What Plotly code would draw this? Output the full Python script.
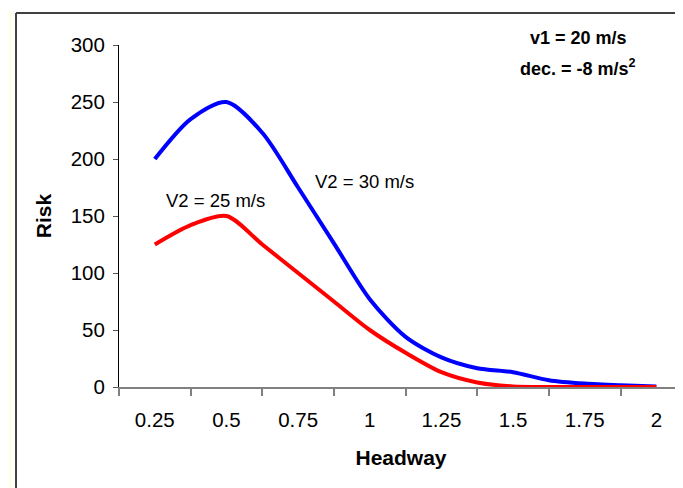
import plotly.graph_objects as go

headway = [0.25, 0.375, 0.5, 0.625, 0.75, 0.875, 1.0, 1.125, 1.25, 1.375, 1.5, 1.625, 1.75, 1.875, 2.0]
risk_v30 = [200, 235, 250, 223, 175, 126, 77, 44, 26, 16.5, 13, 6, 3, 1.5, 0.5]
risk_v25 = [125, 142, 150, 125, 100, 75, 50, 30, 13, 4, 0.5, 0, 0, 0, 0]

xtick_vals = [0.25, 0.5, 0.75, 1, 1.25, 1.5, 1.75, 2]
xtick_text = ["0.25", "0.5", "0.75", "1", "1.25", "1.5", "1.75", "2"]
xtick_marks = [0.125, 0.375, 0.625, 0.875, 1.125, 1.375, 1.625, 1.875]
ytick_vals = [0, 50, 100, 150, 200, 250, 300]

FONT = "Liberation Sans, Arial, sans-serif"

fig = go.Figure()
fig.add_trace(go.Scatter(x=headway, y=risk_v30, mode="lines", name="V2 = 30 m/s",
                         line=dict(color="#0000FF", width=4, shape="spline", smoothing=0.8)))
fig.add_trace(go.Scatter(x=headway, y=risk_v25, mode="lines", name="V2 = 25 m/s",
                         line=dict(color="#FF0000", width=4, shape="spline", smoothing=0.8)))

# page body has an 8px margin; figure is sized/offset to compensate
fig.update_layout(
    width=675, height=480,
    margin=dict(l=111, r=0, t=37, b=101),
    paper_bgcolor="white", plot_bgcolor="white",
    showlegend=False,
    font=dict(family=FONT, color="black", size=20),
    xaxis=dict(
        range=[0.125, 2.093],
        tickvals=xtick_vals, ticktext=xtick_text,
        ticks="outside", ticklen=13, tickcolor="rgba(0,0,0,0)",
        showgrid=False, zeroline=False,
        showline=True, linecolor="#808080", linewidth=2,
        tickfont=dict(size=20.5),
        minor=dict(tickvals=xtick_marks, ticks="outside", ticklen=7,
                   tickcolor="#808080", tickwidth=1.5, showgrid=False),
        title=dict(text="<b>Headway</b>", font=dict(size=21), standoff=21),
    ),
    yaxis=dict(
        range=[0, 300],
        tickvals=ytick_vals,
        ticks="outside", ticklen=5, tickcolor="#555555",
        ticklabelstandoff=4,
        showgrid=False, zeroline=False,
        showline=True, linecolor="black", linewidth=1,
        tickfont=dict(size=20.5),
        title=dict(text="<b>Risk</b>", font=dict(size=21), standoff=13),
    ),
    annotations=[
        dict(text="<b>v1 = 20 m/s</b>", xref="paper", yref="paper", x=0.814, y=1.020,
             showarrow=False, font=dict(size=18), xanchor="center", yanchor="middle"),
        dict(text="<b>dec. = -8 m/s<sup>2</sup></b>", xref="paper", yref="paper", x=0.814, y=0.933,
             showarrow=False, font=dict(size=18), xanchor="center", yanchor="middle"),
        dict(text="V2 = 30 m/s", xref="x", yref="y", x=0.981, y=180,
             showarrow=False, font=dict(size=18.5), xanchor="center", yanchor="middle"),
        dict(text="V2 = 25 m/s", xref="x", yref="y", x=0.462, y=164,
             showarrow=False, font=dict(size=18.5), xanchor="center", yanchor="middle"),
    ],
    shapes=[
        dict(type="line", xref="paper", yref="paper", x0=-0.1826, x1=-0.1826, y0=1.0936, y1=-0.30,
             line=dict(color="#404040", width=2)),
        dict(type="line", xref="paper", yref="paper", x0=-0.1826, x1=1.02, y0=1.0936, y1=1.0936,
             line=dict(color="#404040", width=2)),
        dict(type="line", xref="paper", yref="paper", x0=-0.193, x1=-0.193, y0=1.10, y1=-0.30,
             line=dict(color="#FFFFB0", width=1)),
    ],
)

fig.write_html("out.html")
